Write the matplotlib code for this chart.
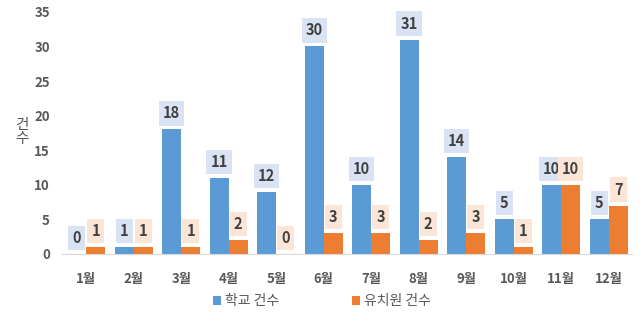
import matplotlib
matplotlib.use("Agg")
import matplotlib.pyplot as plt
import numpy as np

plt.rcParams['font.family'] = ['Noto Sans CJK KR', 'DejaVu Sans']

months = ["1월", "2월", "3월", "4월", "5월", "6월", "7월", "8월", "9월", "10월", "11월", "12월"]
school = [0, 1, 18, 11, 9, 30, 10, 31, 14, 5, 10, 5]
school_labels = ["0", "1", "18", "11", "12", "30", "10", "31", "14", "5", "10", "5"]
kinder = [1, 1, 1, 2, 0, 3, 3, 2, 3, 1, 10, 7]
kinder_labels = [str(v) for v in kinder]

BLUE, ORANGE = "#5B9BD5", "#ED7D31"
BLUE_BOX, ORANGE_BOX = "#DAE3F3", "#FBE5D6"
GRAY = "#595959"

fig = plt.figure(figsize=(6.44, 3.21), dpi=100)
ax = fig.add_axes([0.097, 0.209, 0.885, 0.754])

x = np.arange(len(months))
w = 0.4
b1 = ax.bar(x - w / 2, school, w, color=BLUE, label="학교 건수")
b2 = ax.bar(x + w / 2, kinder, w, color=ORANGE, label="유치원 건수")

for bars, labs, box in ((b1, school_labels, BLUE_BOX), (b2, kinder_labels, ORANGE_BOX)):
    for r, lab in zip(bars, labs):
        ax.annotate(lab, (r.get_x() + r.get_width() / 2, r.get_height()),
                    xytext=(0, 11.5), textcoords="offset points", ha="center", va="center",
                    fontsize=10.5, fontweight="bold", color="#404040",
                    bbox=dict(boxstyle="square,pad=0.28", fc=box, ec="none"))

ax.set_xlim(-0.5, len(months) - 0.5)
ax.set_ylim(0, 35)
ax.set_yticks(range(0, 36, 5))
ax.set_xticks(x)
ax.set_xticklabels(months)
ax.tick_params(length=0, labelsize=9.5, labelcolor=GRAY, pad=13)
ax.tick_params(axis="y", pad=9)
for t in ax.get_xticklabels() + ax.get_yticklabels():
    t.set_fontweight("bold")
for s in ("top", "right", "left"):
    ax.spines[s].set_visible(False)
ax.spines["bottom"].set_color("#D9D9D9")

fig.text(0.034, 0.59, "건\n수", ha="center", va="center", fontsize=10.5, color=GRAY, linespacing=1.0)

fig.legend(handles=[b1, b2], loc="center", bbox_to_anchor=(0.5, 0.062), ncol=2, frameon=False,
           fontsize=10, labelcolor=GRAY, handlelength=0.6, handleheight=0.6, handletextpad=0.3,
           columnspacing=5.2)

fig.savefig("out.png", dpi=100)
